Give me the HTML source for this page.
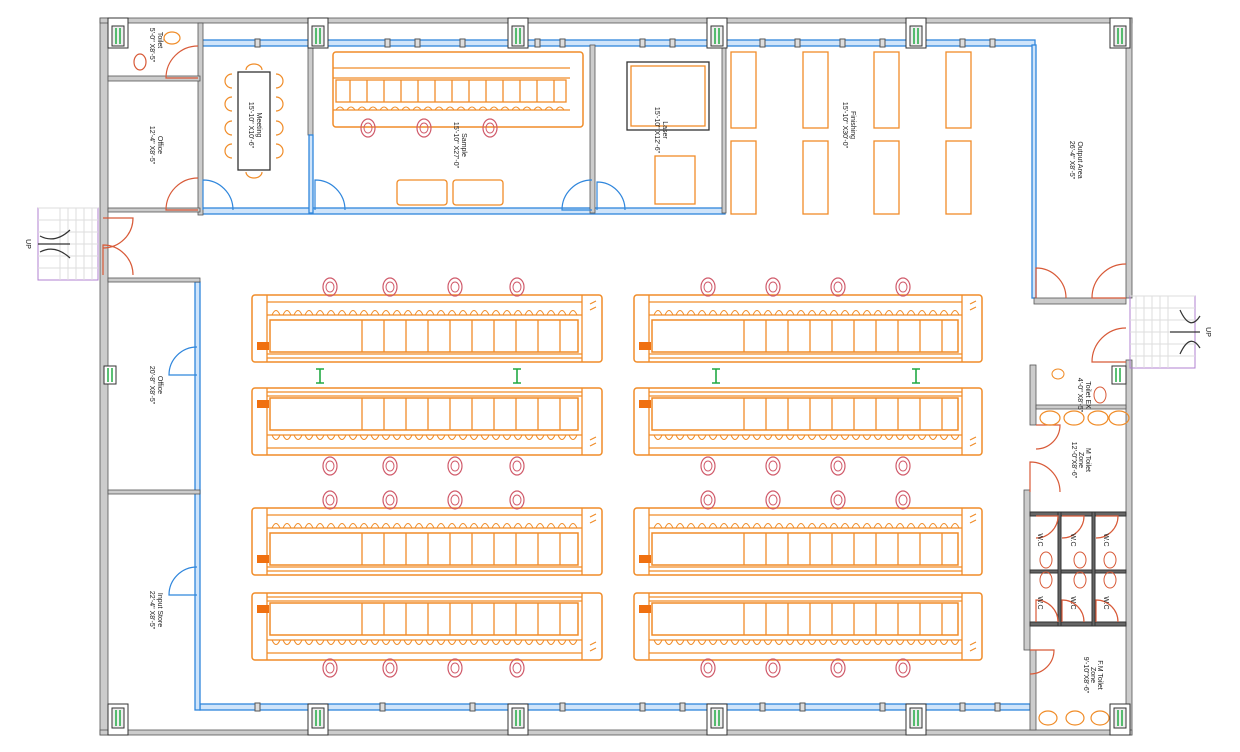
<!DOCTYPE html>
<html><head><meta charset="utf-8"><style>
html,body{margin:0;padding:0;background:#fff;width:1240px;height:752px;overflow:hidden}
svg{display:block}
text{font-family:"Liberation Sans",sans-serif;font-size:7px;fill:#222}
</style></head><body>
<svg id="s" width="1240" height="752" viewBox="0 0 1240 752" xmlns="http://www.w3.org/2000/svg">
<g id="g"></g>
<g>
<text transform="translate(158,40) rotate(90)" text-anchor="middle">Toilet</text>
<text transform="translate(150,45) rotate(90)" text-anchor="middle">5'-0" X8'-5"</text>
<text transform="translate(158,145) rotate(90)" text-anchor="middle">Office</text>
<text transform="translate(150,145) rotate(90)" text-anchor="middle">12'-4" X8'-5"</text>
<text transform="translate(257,125) rotate(90)" text-anchor="middle">Meeting</text>
<text transform="translate(249,125) rotate(90)" text-anchor="middle">15'-10" X10'-6"</text>
<text transform="translate(462,145) rotate(90)" text-anchor="middle">Sample</text>
<text transform="translate(454,145) rotate(90)" text-anchor="middle">15'-10" X27'-0"</text>
<text transform="translate(663,130) rotate(90)" text-anchor="middle">Laser</text>
<text transform="translate(655,130) rotate(90)" text-anchor="middle">15'-10" X12'-6"</text>
<text transform="translate(851,125) rotate(90)" text-anchor="middle">Finishing</text>
<text transform="translate(843,125) rotate(90)" text-anchor="middle">15'-10" X30'-0"</text>
<text transform="translate(1078,160) rotate(90)" text-anchor="middle">Output Area</text>
<text transform="translate(1070,160) rotate(90)" text-anchor="middle">26'-4" X8'-5"</text>
<text transform="translate(158,385) rotate(90)" text-anchor="middle">Office</text>
<text transform="translate(150,385) rotate(90)" text-anchor="middle">20'-8" X8'-5"</text>
<text transform="translate(158,610) rotate(90)" text-anchor="middle">Input Store</text>
<text transform="translate(150,610) rotate(90)" text-anchor="middle">22'-4" X8'-5"</text>
<text transform="translate(1086,395) rotate(90)" text-anchor="middle">Toilet EX</text>
<text transform="translate(1078,395) rotate(90)" text-anchor="middle">4'-0" X8'-5"</text>
<text transform="translate(1086,460) rotate(90)" text-anchor="middle">M Toilet</text>
<text transform="translate(1079,460) rotate(90)" text-anchor="middle">Zone</text>
<text transform="translate(1072,460) rotate(90)" text-anchor="middle">12'-0"X8'-6"</text>
<text transform="translate(1098,675) rotate(90)" text-anchor="middle">F.M Toilet</text>
<text transform="translate(1091,675) rotate(90)" text-anchor="middle">Zone</text>
<text transform="translate(1084,675) rotate(90)" text-anchor="middle">9'-10"X8'-6"</text>
<text transform="translate(1038,540) rotate(90)" text-anchor="middle">W.C</text>
<text transform="translate(1071,540) rotate(90)" text-anchor="middle">W.C</text>
<text transform="translate(1104,540) rotate(90)" text-anchor="middle">W.C</text>
<text transform="translate(1038,603) rotate(90)" text-anchor="middle">W.C</text>
<text transform="translate(1071,603) rotate(90)" text-anchor="middle">W.C</text>
<text transform="translate(1104,603) rotate(90)" text-anchor="middle">W.C</text>
<text transform="translate(26,244) rotate(90)" text-anchor="middle">UP</text>
<text transform="translate(1206,332) rotate(90)" text-anchor="middle">UP</text>
</g>
</svg>
<script>
var o='';
function R(x,y,w,h,st,f,sw,rx){o+='<rect x="'+x+'" y="'+y+'" width="'+w+'" height="'+h+'" fill="'+(f||'none')+'" stroke="'+(st||'none')+'" stroke-width="'+(sw||1)+'"'+(rx?' rx="'+rx+'"':'')+'/>';}
function L(x1,y1,x2,y2,st,sw){o+='<line x1="'+x1+'" y1="'+y1+'" x2="'+x2+'" y2="'+y2+'" stroke="'+st+'" stroke-width="'+(sw||1.3)+'"/>';}
function P(d,st,sw,f){o+='<path d="'+d+'" stroke="'+st+'" stroke-width="'+(sw||1.2)+'" fill="'+(f||'none')+'"/>';}
var G='#999',GF='#ccc',B='#2f86dc',OR='#f08c28',RD='#d85a38',PK='#d05a6a',GR='#22aa44',PU='#b080d0';
function wall(x,y,w,h){R(x,y,w,h,'#555',GF,0.8);}
function bw(x,y,w,h){R(x,y,w,h,B,'#cfe4fa',1.3);}
wall(100,18,8,717); wall(100,18,1032,5); wall(1126,18,6,280); wall(1126,360,6,375);
wall(100,730,1032,5);
bw(200,40,835,6); bw(200,208,525,6);
bw(200,704,830,6);
bw(1032,45,4,253); bw(195,282,5,428);
wall(198,23,5,192); wall(308,45,5,90); bw(309,135,4,78); wall(590,45,5,168); wall(722,45,4,168);
wall(108,76,92,5); wall(108,208,92,4);
wall(108,278,92,4); wall(108,490,92,4);
R(1034,298,92,6,'#555',GF,0.8);
wall(1030,365,6,60); wall(1024,490,6,160); wall(1030,650,6,80); wall(1036,405,90,4);
R(1030,512,96,4,'#333','#666'); R(1030,570,96,3,'#333','#666'); R(1030,622,96,4,'#333','#666');
R(1058,512,3,114,'#333','#666'); R(1092,512,3,114,'#333','#666');
[108,308,508,707,906,1110].forEach(function(x){R(x,18,20,30,'#333','#fff');R(x+4,26,12,20,'#333','#eee');L(x+8,28,x+8,44,GR,1.5);L(x+12,28,x+12,44,GR,1.5);
R(x,704,20,31,'#333','#fff');R(x+4,708,12,20,'#333','#eee');L(x+8,710,x+8,726,GR,1.5);L(x+12,710,x+12,726,GR,1.5);});
R(104,366,12,18,'#333','#fff');L(108,368,108,382,GR,1.5);L(112,368,112,382,GR,1.5);
R(1112,366,14,18,'#333','#fff');L(1116,368,1116,382,GR,1.5);L(1120,368,1120,382,GR,1.5);
[255,385,415,460,535,560,640,670,760,795,840,880,960,990].forEach(function(x){R(x,39,5,8,'#555','#ddd');});
[255,380,470,560,640,680,760,800,880,960,995].forEach(function(x){R(x,703,5,8,'#555','#ddd');});
function door(cx,cy,r,a0,a1,st){var s=Math.PI/180;var x0=cx+r*Math.cos(a0*s),y0=cy+r*Math.sin(a0*s),x1=cx+r*Math.cos(a1*s),y1=cy+r*Math.sin(a1*s);P('M'+cx+' '+cy+' L'+x0+' '+y0+' A'+r+' '+r+' 0 0 1 '+x1+' '+y1,st,1.2);}
door(198,210,32,180,270,RD); door(198,78,32,180,270,RD);
door(203,210,30,270,360,B); door(315,210,30,270,360,B); door(592,210,30,180,270,B); door(597,210,28,270,360,B);
door(197,375,28,180,270,B); door(197,595,28,180,270,B);
door(1036,298,30,270,360,RD); door(1126,298,34,180,270,RD); door(1126,362,34,180,270,RD);
door(103,218,30,0,90,RD); door(103,275,30,270,360,RD);
door(1036,425,24,0,90,RD); door(1030,492,30,270,360,RD); door(1030,650,24,0,90,RD);
[1036,1062,1096].forEach(function(x){door(x,516,22,0,90,RD);door(x,622,22,270,360,RD);});
R(38,208,60,72,PU,'none'); for(var i=0;i<6;i++)L(38,208+i*12,98,208+i*12,'#ddd',1);for(i=0;i<5;i++)L(60+i*8,208,60+i*8,280,'#ddd',1);L(38,244,70,244,'#333');P('M40 236 Q55 244 70 230 M40 252 Q55 244 70 258','#333');
R(1130,296,65,72,PU,'none'); for(i=0;i<6;i++)L(1130,296+i*12,1195,296+i*12,'#ddd',1);for(i=0;i<5;i++)L(1136+i*8,296,1136+i*8,368,'#ddd',1);L(1170,332,1200,332,'#333');P('M1180 310 Q1190 332 1200 316 M1180 354 Q1190 332 1200 348','#333');
function chair(x,y){o+='<ellipse cx="'+x+'" cy="'+y+'" rx="7" ry="9" fill="none" stroke="'+PK+'" stroke-width="1.2"/><ellipse cx="'+x+'" cy="'+y+'" rx="4" ry="5" fill="none" stroke="'+PK+'"/>';}
function table(x,y,w,flip){var h=72;function Y(v){return flip?y+h-v:y+v;}
var t=Math.min(Y(5),Y(72));R(x,t,w,67,OR,'none',1.5,3);
L(x+15,Y(5),x+15,Y(72),OR);L(x+w-20,Y(5),x+w-20,Y(72),OR);
L(x+15,Y(12),x+w-20,Y(12),OR);L(x+15,Y(25),x+w-20,Y(25),OR);
for(var k=x+20;k<x+w-22;k+=11){P('M'+k+' '+Y(25)+' Q'+(k+4)+' '+Y(16)+' '+(k+8)+' '+Y(25),OR,1);}
var a=Math.min(Y(30),Y(62));R(x+18,a,w-42,32,OR,'none',1.5);
for(var k=x+110;k<x+w-30;k+=22){L(k,a,k,a+32,OR);}
L(x+15,Y(64),x+w-20,Y(64),OR);L(x+15,Y(68),x+w-20,Y(68),OR);
R(x+5,Math.min(Y(52),Y(60)),12,8,'none','#f07010');
P('M'+(x+w-12)+' '+Y(14)+' l6 -3 M'+(x+w-12)+' '+Y(20)+' l6 -3',OR);
}
[[252,290,0],[252,388,1],[252,503,0],[252,593,1],[634,290,0],[634,388,1],[634,503,0],[634,593,1]].forEach(function(t){table(t[0],t[1],t[0]==252?350:348,t[2]);});
[330,390,455,517].forEach(function(x){chair(x,287);chair(x,466);chair(x,500);chair(x,668);});
[708,773,838,903].forEach(function(x){chair(x,287);chair(x,466);chair(x,500);chair(x,668);});
[320,517,716,916].forEach(function(x){P('M'+(x-4)+' 369 h8 M'+x+' 369 v14 M'+(x-4)+' 383 h8',GR,1.6);});
R(333,52,250,75,OR,'none',1.5,3);L(333,68,570,68,OR);L(333,78,570,78,OR);R(336,80,230,22,OR,'none',1.3);
for(var k=350;k<566;k+=17)L(k,80,k,102,OR);for(k=336;k<566;k+=11)P('M'+k+' 110 Q'+(k+4)+' 104 '+(k+8)+' 110',OR,1);L(333,110,570,110,OR);
[368,424,490].forEach(function(x){chair(x,128);});
R(397,180,50,25,OR,'none',1.3,3);R(453,180,50,25,OR,'none',1.3,3);
R(238,72,32,98,'#333','#fff',1.3);[80,103,127,150].forEach(function(y){P('M232 '+(y-6)+' a7 7 0 0 0 0 14',OR);P('M276 '+(y-6)+' a7 7 0 0 1 0 14',OR);});
P('M246 70 a8 6 0 0 1 16 0',OR);P('M246 172 a8 6 0 0 0 16 0',OR);
R(627,62,82,68,'#333','none',1.3);R(631,66,74,60,OR,'none',1.3);R(655,156,40,48,OR,'none',1.3);
[731,803,874,946].forEach(function(x){R(x,52,25,76,OR,'none',1.3);R(x,141,25,73,OR,'none',1.3);});
o+='<ellipse cx="172" cy="38" rx="8" ry="6" fill="none" stroke="'+OR+'" stroke-width="1.2"/><ellipse cx="140" cy="62" rx="6" ry="8" fill="none" stroke="'+RD+'" stroke-width="1.2"/>';
[1052,1076,1100,1121].forEach(function(x){o+='<ellipse cx="'+(x-2)+'" cy="418" rx="10" ry="7" fill="none" stroke="'+OR+'" stroke-width="1.2"/>';});
[1048,1075,1100].forEach(function(x){o+='<ellipse cx="'+x+'" cy="718" rx="9" ry="7" fill="none" stroke="'+OR+'" stroke-width="1.2"/>';});
o+='<ellipse cx="1058" cy="374" rx="6" ry="5" fill="none" stroke="'+OR+'"/><ellipse cx="1100" cy="395" rx="6" ry="8" fill="none" stroke="'+RD+'"/>';
[1046,1080,1110].forEach(function(x){o+='<ellipse cx="'+x+'" cy="560" rx="6" ry="8" fill="none" stroke="'+RD+'"/><ellipse cx="'+x+'" cy="580" rx="6" ry="8" fill="none" stroke="'+RD+'"/>';});
document.getElementById('g').innerHTML=o;
</script>
</body></html>
